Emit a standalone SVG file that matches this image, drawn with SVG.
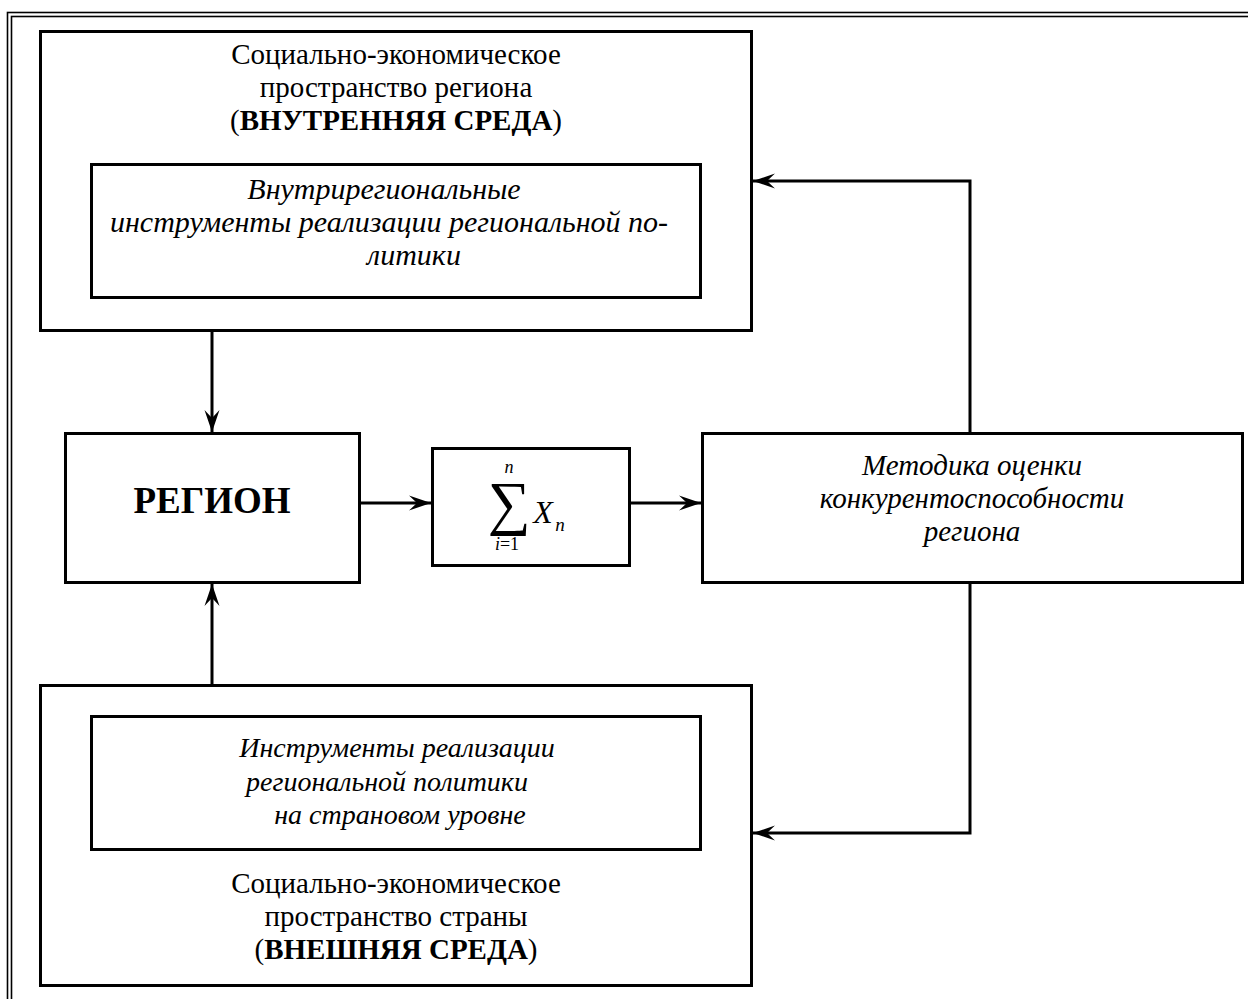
<svg xmlns="http://www.w3.org/2000/svg" width="1248" height="999" viewBox="0 0 1248 999">
<defs>
<style>
.box{fill:#fff;stroke:#000;stroke-width:3}
.frame{fill:none;stroke:#000;stroke-width:1.6}
.t{font-family:"Liberation Serif","Times New Roman",serif;font-size:29px;fill:#000;text-anchor:middle}
.i{font-style:italic}
.b{font-weight:bold}
.c{fill:none;stroke:#000;stroke-width:3}
</style>
<marker id="ah" markerUnits="userSpaceOnUse" markerWidth="30" markerHeight="20" viewBox="-24 -10 26 20" refX="0" refY="0" orient="auto">
<path d="M0,0 L-22,-7.5 L-14,0 L-22,7.5 Z" fill="#000"/>
</marker>
</defs>
<rect width="1248" height="999" fill="#fff"/>
<g id="frame">
<rect class="frame" x="7.5" y="12.5" width="1300" height="1100"/>
<rect class="frame" x="11.5" y="16.5" width="1300" height="1100"/>
</g>
<g id="inner-env">
<rect class="box" x="40.5" y="31.5" width="711" height="299"/>
<text class="t" x="396" y="64">Социально-экономическое</text>
<text class="t" x="396" y="97">пространство региона</text>
<text class="t" x="396" y="130">(<tspan class="b">ВНУТРЕННЯЯ СРЕДА</tspan>)</text>
</g>
<g id="inner-tools">
<rect class="box" x="91.5" y="164.5" width="609" height="133"/>
<text class="t i" x="384" y="199" style="font-size:30px">Внутрирегиональные</text>
<text class="t i" x="389" y="232" style="font-size:30px">инструменты реализации региональной по-</text>
<text class="t i" x="414" y="265" style="font-size:30px">литики</text>
</g>
<g id="region">
<rect class="box" x="65.5" y="433.5" width="294" height="149"/>
<text class="t b" x="212" y="513" style="font-size:37px">РЕГИОН</text>
</g>
<g id="sum">
<rect class="box" x="432.5" y="448.5" width="197" height="117"/>
<text class="t" x="509" y="523" style="font-size:60px">∑</text>
<text class="t i" x="509" y="473" style="font-size:18px">n</text>
<text class="t i" x="543" y="523" style="font-size:32px">X</text>
<text class="t i" x="560" y="531" style="font-size:19px">n</text>
<text class="t" x="507" y="550" style="font-size:18px"><tspan class="i">i</tspan>=1</text>
</g>
<g id="method">
<rect class="box" x="702.5" y="433.5" width="540" height="149"/>
<text class="t i" x="972" y="475">Методика оценки</text>
<text class="t i" x="972" y="508">конкурентоспособности</text>
<text class="t i" x="972" y="541">региона</text>
</g>
<g id="outer-env">
<rect class="box" x="40.5" y="685.5" width="711" height="300"/>
<text class="t" x="396" y="893">Социально-экономическое</text>
<text class="t" x="396" y="926">пространство страны</text>
<text class="t" x="396" y="959">(<tspan class="b">ВНЕШНЯЯ СРЕДА</tspan>)</text>
</g>
<g id="outer-tools">
<rect class="box" x="91.5" y="716.5" width="609" height="133"/>
<text class="t i" x="397" y="757" style="font-size:28px">Инструменты реализации</text>
<text class="t i" x="387" y="791" style="font-size:28px">региональной политики</text>
<text class="t i" x="400" y="824" style="font-size:28px">на страновом уровне</text>
</g>
<g id="connectors">
<line class="c" x1="212" y1="332" x2="212" y2="432" marker-end="url(#ah)"/>
<line class="c" x1="212" y1="684" x2="212" y2="584" marker-end="url(#ah)"/>
<line class="c" x1="360" y1="503" x2="431" y2="503" marker-end="url(#ah)"/>
<line class="c" x1="631" y1="503" x2="701" y2="503" marker-end="url(#ah)"/>
<polyline class="c" points="970,432 970,181 753,181" marker-end="url(#ah)"/>
<polyline class="c" points="970,584 970,833 753,833" marker-end="url(#ah)"/>
</g>
</svg>
